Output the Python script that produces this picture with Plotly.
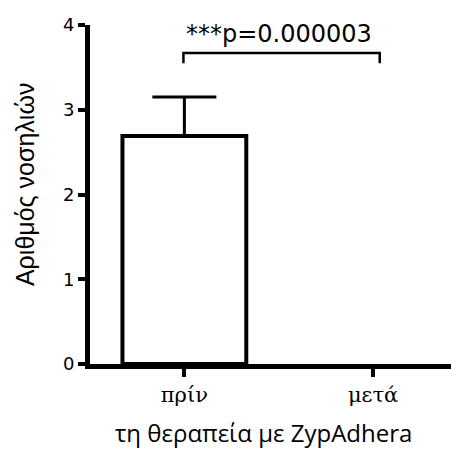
import plotly.graph_objects as go

categories = ["πρίν", "μετά"]
means = [2.69, 0.0]
errors = [0.46, 0.0]
y_ticks = [0, 1, 2, 3, 4]
p_label = "***p=0.000003"
y_title = "Αριθμός νοσηλιών"
x_title = "τη θεραπεία με ZypAdhera"

xpos = list(range(len(categories)))

fig = go.Figure()
fig.add_trace(go.Bar(
    x=xpos, y=means,
    width=0.656,
    marker=dict(color="white",
                line=dict(color="black", width=[4 if m > 0 else 0 for m in means])),
    showlegend=False,
))
# upper-only error bars, drawn only where there is an error
ex = [x for x, e in zip(xpos, errors) if e > 0]
ey = [m for m, e in zip(means, errors) if e > 0]
ee = [e for e in errors if e > 0]
fig.add_trace(go.Scatter(
    x=ex, y=ey, mode="markers", marker=dict(size=1, opacity=0),
    error_y=dict(type="data", array=ee, arrayminus=[0] * len(ee), symmetric=False,
                 visible=True, color="black", thickness=3, width=32),
    showlegend=False, hoverinfo="skip",
))

top = max(m + e for m, e in zip(means, errors))
yb = top + 0.52
fig.add_shape(type="path",
              path=f"M -0.005,{yb-0.12} L -0.005,{yb} L 1.035,{yb} L 1.035,{yb-0.12}",
              line=dict(color="black", width=2.5), xref="x", yref="y")
fig.add_annotation(x=0.5, y=yb + 0.03, text=p_label, showarrow=False,
                   xref="x", yref="y", yanchor="bottom",
                   font=dict(family="DejaVu Sans", size=24, color="black"))

# axis titles placed as annotations
fig.add_annotation(x=-0.176, y=0.528, xref="paper", yref="paper", text=y_title,
                   showarrow=False, textangle=-90, xanchor="center", yanchor="middle",
                   font=dict(family="Liberation Sans, Arial", size=25, color="black"))
fig.add_annotation(x=0.469, y=-0.2006, xref="paper", yref="paper", text=x_title,
                   showarrow=False, xanchor="center", yanchor="middle",
                   font=dict(family="Open Sans", size=24, color="black"))

# the page body has an 8px margin, so the figure is sized/offset to compensate
fig.update_layout(
    width=451, height=458,
    margin=dict(l=82, r=0, t=17, b=102),
    plot_bgcolor="white", paper_bgcolor="white",
    xaxis=dict(range=[-0.5, 1.455], tickmode="array", tickvals=xpos, ticktext=categories,
               showline=True, linecolor="black", linewidth=5, automargin=False,
               ticks="outside", ticklen=8, tickwidth=4, tickcolor="black",
               showgrid=False, zeroline=False,
               tickfont=dict(family="DejaVu Serif", size=21, color="black")),
    yaxis=dict(range=[0, 4], tickvals=y_ticks,
               showline=True, linecolor="black", linewidth=5, automargin=False,
               ticks="outside", ticklen=7, tickwidth=4, tickcolor="black",
               showgrid=False, zeroline=False,
               tickfont=dict(family="DejaVu Sans", size=18, color="black")),
)
fig.write_html("out.html")
